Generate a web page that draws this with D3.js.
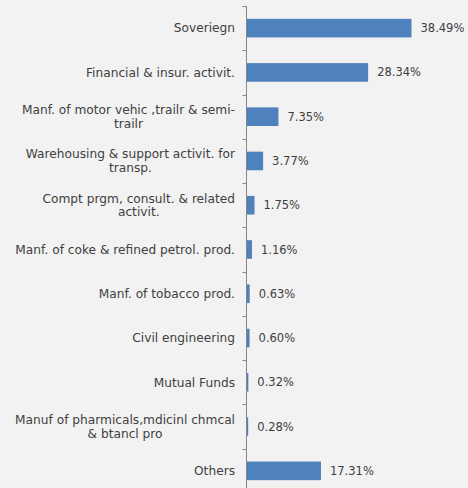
<!DOCTYPE html>
<html>
<head>
<meta charset="utf-8">
<script src="https://cdn.jsdelivr.net/npm/d3@7"></script>
<style>
  html, body { margin: 0; padding: 0; background: #f2f2f2; }
  svg { display: block; }
  text { font-family: "Century Gothic", "DejaVu Sans", sans-serif; fill: #404040; }
</style>
</head>
<body>
<svg id="chart" width="468" height="488"></svg>
<script>
// Sector exposure (% of portfolio)
const categories = [
  "Soveriegn",
  "Financial & insur. activit.",
  "Manf. of motor vehic ,trailr & semi-|trailr",
  "Warehousing & support activit. for|transp.",
  "Compt prgm, consult. & related|activit.",
  "Manf. of coke & refined petrol. prod.",
  "Manf. of tobacco prod.",
  "Civil engineering",
  "Mutual Funds",
  "Manuf of pharmicals,mdicinl chmcal|& btancl pro",
  "Others"
];
const values = [38.49, 28.34, 7.35, 3.77, 1.75, 1.16, 0.63, 0.60, 0.32, 0.28, 17.31];
const valueLabels = ["38.49%", "28.34%", "7.35%", "3.77%", "1.75%", "1.16%", "0.63%", "0.60%", "0.32%", "0.28%", "17.31%"];

const svg = d3.select("#chart");
const axisX = 247;
const plotTop = 6, plotBottom = 493;

const x = d3.scaleLinear().domain([0, 40]).range([axisX, axisX + 40 * 4.274]);
const y = d3.scaleBand().domain(categories).range([plotTop, plotBottom]).paddingInner(0.58).paddingOuter(0.29);

// Category axis with ticks between bands
const step = y.step();
const boundaries = d3.range(categories.length + 1).map(i => plotTop + i * step);
svg.append("line")
  .attr("x1", axisX - 0.5).attr("x2", axisX - 0.5)
  .attr("y1", plotTop).attr("y2", plotBottom)
  .attr("stroke", "#868686").attr("stroke-width", 1);
svg.selectAll("line.tick").data(boundaries).join("line")
  .attr("class", "tick")
  .attr("x1", axisX - 4.5).attr("x2", axisX - 0.5)
  .attr("y1", d => Math.round(d) + 0.5).attr("y2", d => Math.round(d) + 0.5)
  .attr("stroke", "#868686").attr("stroke-width", 1);

// Bars
svg.selectAll("rect.bar").data(values).join("rect")
  .attr("class", "bar")
  .attr("x", x(0))
  .attr("y", (d, i) => y(categories[i]))
  .attr("width", d => x(d) - x(0))
  .attr("height", y.bandwidth())
  .attr("fill", "#4f81bd");

// Value labels
svg.selectAll("text.val").data(values).join("text")
  .attr("class", "val")
  .attr("x", d => x(d) + 9)
  .attr("y", (d, i) => y(categories[i]) + y.bandwidth() / 2)
  .attr("dy", "0.35em")
  .attr("font-size", 11.5)
  .text((d, i) => valueLabels[i]);

// Category labels: right-aligned block, wrapped lines centred within it
const lineH = 13.5;
const labelRight = 235;
svg.selectAll("text.cat").data(categories).join("text")
  .attr("class", "cat")
  .attr("font-size", 12.2)
  .each(function (d) {
    const lines = d.split("|");
    const cy = y(d) + y.bandwidth() / 2;
    const t = d3.select(this);
    const spans = lines.map((ln, k) => t.append("tspan")
      .attr("y", cy + (k - (lines.length - 1) / 2) * lineH)
      .attr("dy", "0.35em")
      .attr("text-anchor", "middle")
      .text(ln));
    const widths = spans.map(s => s.node().getComputedTextLength());
    const maxW = d3.max(widths);
    spans.forEach(s => s.attr("x", labelRight - maxW / 2));
  });
</script>
</body>
</html>
